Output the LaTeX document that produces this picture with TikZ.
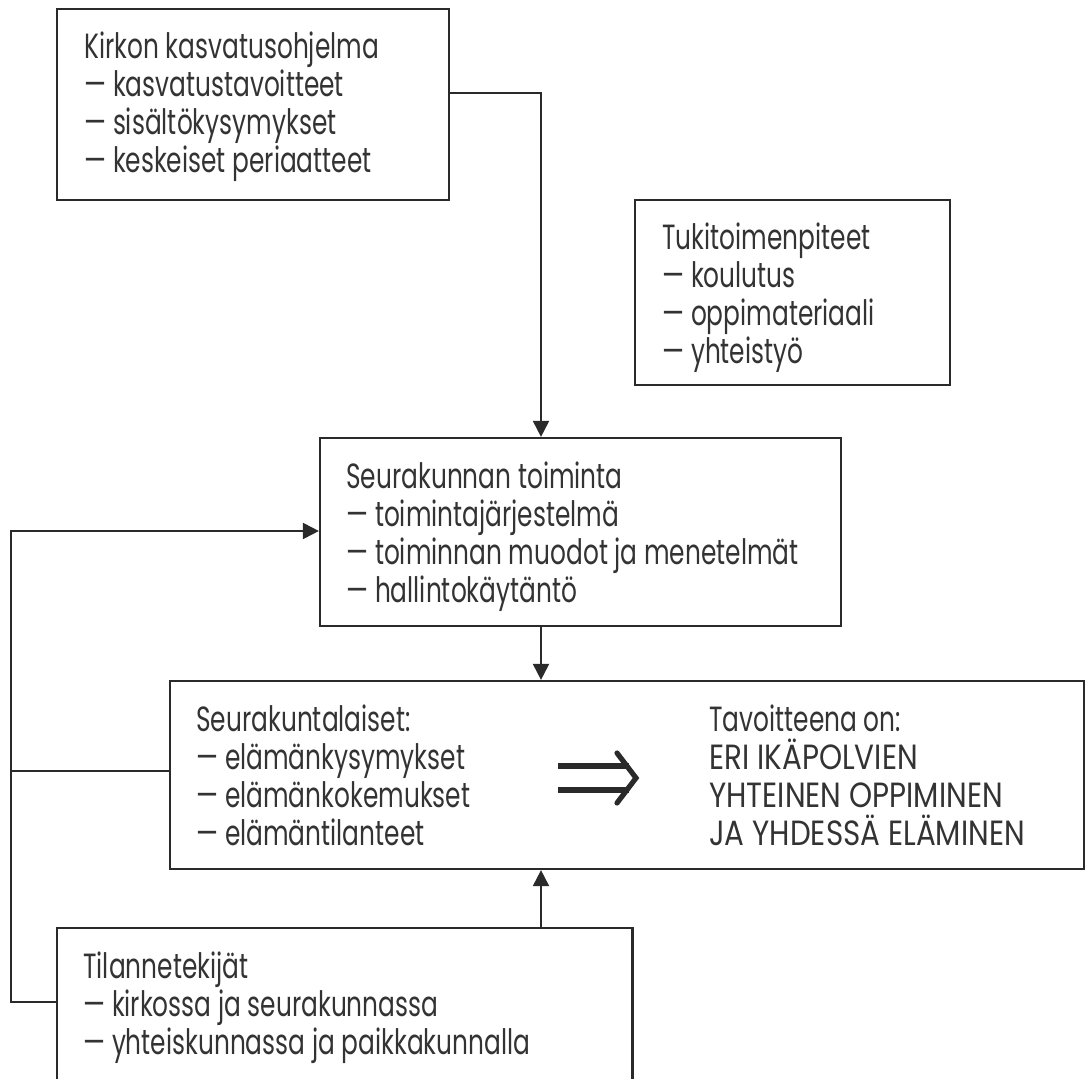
\documentclass[tikz,border=0pt]{standalone}
\usepackage{fontspec}
\setmainfont{Poppins}[FakeStretch=0.71]
\newfontfamily\capsfont{Poppins}[FakeStretch=0.84]
\usetikzlibrary{fit,arrows.meta}
\definecolor{ink}{HTML}{2A2A2A}
\definecolor{textink}{HTML}{333333}
\newcommand\txtlines[4]{%
  \foreach \t [count=\i from 0] in {#4} {%
    \node[txt] (#1-\i) at (#2,{#3+38*\i}) {\t};}}
\begin{document}
\begin{tikzpicture}[x=0.5pt,y=-0.5pt,
  box/.style={draw=ink, line width=1.1pt, inner sep=0pt},
  openbox/.style={draw=none, inner sep=0pt},
  txt/.style={anchor=base west, inner sep=0pt, text=textink,
    font=\fontsize{17.5pt}{19pt}\selectfont},
  captxt/.style={txt, font=\fontsize{17.5pt}{19pt}\selectfont\capsfont},
  conn/.style={draw=ink, line width=1pt},
  arr/.style={conn, -{Triangle[length=8pt,width=8pt]}},
  ]
\useasboundingbox (0,0) rectangle (1086,1079);
% boxes
\node[box, fit={(57,9)(449,200)}] (b1) {};
\node[box, fit={(635,200)(950,385)}] (b2) {};
\node[box, fit={(320,438)(841,626)}] (b3) {};
\node[box, fit={(170,681)(1084,869)}] (b4) {};
\node[openbox, fit={(57,928)(632,1079)}] (b5) {};
\draw[box] (b5.south west) -- (b5.north west) -- (b5.north east) -- (b5.south east);
% texts
\txtlines{t1}{84}{59}{Kirkon kasvatusohjelma,— kasvatustavoitteet,— sisältökysymykset,— keskeiset periaatteet}
\txtlines{t2}{662}{250}{Tukitoimenpiteet,— koulutus,— oppimateriaali,— yhteistyö}
\txtlines{t3}{346}{488}{Seurakunnan toiminta,— toimintajärjestelmä,— toiminnan muodot ja menetelmät,— hallintokäytäntö}
\txtlines{t4}{196}{731}{Seurakuntalaiset:,— elämänkysymykset,— elämänkokemukset,— elämäntilanteet}
\node[txt] (t6-0) at (709,731) {Tavoitteena on:};
\node[captxt] (t7-0) at (709,769) {ERI IKÄPOLVIEN};
\node[captxt] (t7-1) at (709,807) {YHTEINEN OPPIMINEN};
\node[captxt] (t7-2) at (709,845) {JA YHDESSÄ ELÄMINEN};
\txtlines{t5}{83}{978}{Tilannetekijät,— kirkossa ja seurakunnassa,— yhteiskunnassa ja paikkakunnalla}
% connectors
\coordinate (k1) at (541,93);
\coordinate (L1) at (11,531);
\coordinate (Lm) at (11,771);
\coordinate (L2) at (11,1002);
\draw[arr] (b1.east |- k1) -- (k1) -- (k1 |- b3.north);
\draw[arr] (k1 |- b3.south) -- (k1 |- b4.north);
\draw[arr] (k1 |- b5.north) -- (k1 |- b4.south);
\draw[arr] (b5.west |- L2) -- (L2) -- (L1) -- (b3.west |- L1);
\draw[conn] (Lm) -- (b4.west |- Lm);
% double arrow
\draw[ink, line width=2.6pt] (558,766) -- (629,766) (558,790) -- (629,790);
\draw[ink, line width=2.6pt, line cap=round, miter limit=10] (617,753) -- (636,778) -- (617,803);
\end{tikzpicture}
\end{document}
